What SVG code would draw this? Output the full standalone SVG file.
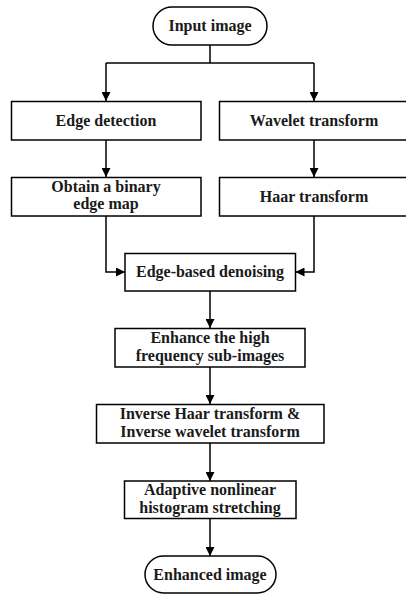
<svg xmlns="http://www.w3.org/2000/svg" width="406" height="594" viewBox="0 0 406 594">
<defs>
<marker id="ah" viewBox="0 0 10 10" refX="10" refY="5" markerWidth="9" markerHeight="9" markerUnits="userSpaceOnUse" orient="auto">
<path d="M0,0 L10,5 L0,10 z" fill="#000"/>
</marker>
<style>
.box{fill:#fff;stroke:#000;stroke-width:1.5}
.t{font-family:"Liberation Serif","Times New Roman",serif;font-weight:bold;font-size:16px;fill:#1a1a1a;text-anchor:middle}
.c{fill:none;stroke:#000;stroke-width:1.5}
</style>
</defs>
<rect width="406" height="594" fill="#fff"/>
<g id="connectors">
<path class="c" d="M210,45 V63"/>
<path class="c" d="M106,63 H314"/>
<path class="c" d="M106,63 V101" marker-end="url(#ah)"/>
<path class="c" d="M314,63 V101" marker-end="url(#ah)"/>
<path class="c" d="M106,140 V177" marker-end="url(#ah)"/>
<path class="c" d="M314,140 V177" marker-end="url(#ah)"/>
<path class="c" d="M106,216 V272 H125" marker-end="url(#ah)"/>
<path class="c" d="M314,216 V272 H295.5" marker-end="url(#ah)"/>
<path class="c" d="M210,291 V328" marker-end="url(#ah)"/>
<path class="c" d="M210,367 V404" marker-end="url(#ah)"/>
<path class="c" d="M210,443 V481" marker-end="url(#ah)"/>
<path class="c" d="M210,518 V556" marker-end="url(#ah)"/>
</g>
<g id="input">
<rect class="box" x="153" y="7" width="114" height="38" rx="19"/>
<text class="t" x="210" y="31">Input image</text>
</g>
<g id="edge-detection">
<rect class="box" x="11.5" y="101.5" width="189.5" height="38.5"/>
<text class="t" x="106" y="125.5">Edge detection</text>
</g>
<g id="wavelet">
<rect class="box" x="219.5" y="101.5" width="190" height="38.5"/>
<text class="t" x="314" y="125.5">Wavelet transform</text>
</g>
<g id="binary-map">
<rect class="box" x="11.5" y="177.5" width="189.5" height="38.5"/>
<text class="t" x="106" y="191.5">Obtain a binary</text>
<text class="t" x="106" y="208.5">edge map</text>
</g>
<g id="haar">
<rect class="box" x="219.5" y="177.5" width="190" height="38.5"/>
<text class="t" x="314" y="201.5">Haar transform</text>
</g>
<g id="denoising">
<rect class="box" x="125" y="253.5" width="170.5" height="37.5"/>
<text class="t" x="210" y="277">Edge-based denoising</text>
</g>
<g id="enhance">
<rect class="box" x="115" y="328.5" width="190" height="38.5"/>
<text class="t" x="210" y="343">Enhance the high</text>
<text class="t" x="210" y="361">frequency sub-images</text>
</g>
<g id="inverse">
<rect class="box" x="96.5" y="404.5" width="227.5" height="38.5"/>
<text class="t" x="210" y="418.5">Inverse Haar transform &amp;</text>
<text class="t" x="210" y="437">Inverse wavelet transform</text>
</g>
<g id="stretching">
<rect class="box" x="124.5" y="481" width="171.5" height="37.5"/>
<text class="t" x="210" y="494.5">Adaptive nonlinear</text>
<text class="t" x="210" y="513">histogram stretching</text>
</g>
<g id="output">
<rect class="box" x="145" y="556" width="131" height="37" rx="18.5"/>
<text class="t" x="210" y="580">Enhanced image</text>
</g>
</svg>
